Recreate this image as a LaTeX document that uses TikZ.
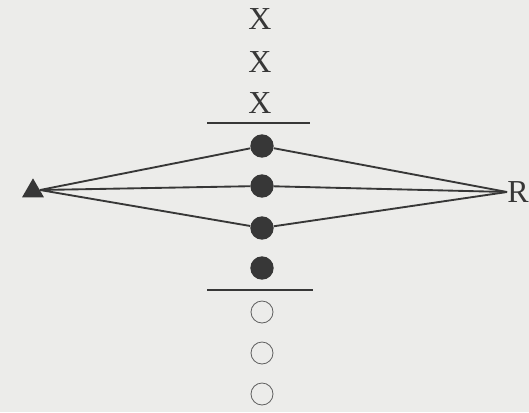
\documentclass[tikz,border=0pt]{standalone}
\usepackage{fontspec}
\setmainfont{Liberation Serif}
\usetikzlibrary{shapes.geometric}
\definecolor{paper}{RGB}{236,236,234}
\definecolor{ink}{RGB}{55,55,55}
\tikzset{
  full/.style={circle,fill=ink,inner sep=0pt,minimum size=17.5pt},
  empty/.style={circle,draw=ink!80,line width=0.6pt,inner sep=0pt,minimum size=16.5pt},
  mark x/.style={font=\fontsize{24}{26}\selectfont,text=ink,inner sep=0pt},
  ray/.style={draw=ink,line width=1.4pt}
}
\begin{document}
\begin{tikzpicture}[x=0.75pt,y=-0.75pt]
	% Nền giấy
	\fill[paper] (0,0) rectangle (529,412);
	\useasboundingbox (0,0) rectangle (529,412);
	% Các dấu X phía trên
	\foreach \y [count=\i] in {19,62,103}
	\node[mark x] (x\i) at (260,\y) {X};
	% Hai vạch ngang
	\draw[ink,line width=1.4pt] (207,123)--(310,123);
	\draw[ink,line width=1.4pt] (207,290)--(313,290);
	% Các chấm đen
	\foreach \y [count=\i] in {146,186,228,268}
	\node[full] (b\i) at (262,\y) {};
	% Các vòng tròn rỗng
	\foreach \y [count=\i] in {312,353,394}
	\node[empty] (w\i) at (262,\y) {};
	% Nguồn và đầu thu
	\node[regular polygon,regular polygon sides=3,fill=ink,inner sep=0pt,minimum size=19pt] (tx) at (33,191) {};
	\coordinate (src) at (40,190);
	\node[mark x,anchor=west] (rx) at (507,192) {R};
	\coordinate (dst) at (rx.west);
	% Các tia
	\foreach \i in {1,2,3}
	\draw[ray] (src) -- (b\i) -- (dst);
\end{tikzpicture}
\end{document}
